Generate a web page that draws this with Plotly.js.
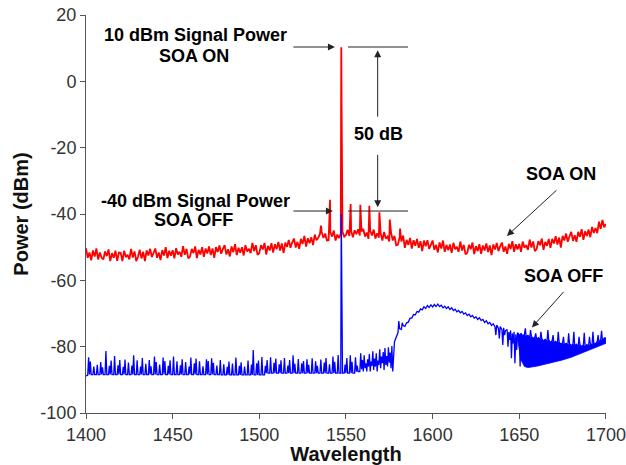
<!DOCTYPE html>
<html>
<head>
<meta charset="utf-8">
<script src="https://cdn.plot.ly/plotly-3.0.1.min.js"></script>
<style>html,body{margin:0;padding:0;background:#fff;}#chart{width:626px;height:465px;}</style>
</head>
<body>
<div id="chart"></div>
<script>
// Wavelength grid (nm): samples every 1 nm from 1400 to 1700
const wlStart = 1400;
const wlStep = 1;

// SOA ON spectrum (dBm), one value per nm, 1400..1700
const soaOn = [
-50.3,-53.2,-51.6,-54.0,-51.0,-52.8,-50.4,-53.7,-51.6,-53.2,
-53.7,-51.3,-52.7,-50.7,-54.2,-51.8,-53.2,-51.1,-54.1,-51.6,
-51.7,-54.2,-51.1,-53.0,-52.3,-53.7,-50.5,-53.1,-51.3,-54.2,
-52.9,-50.8,-53.4,-51.4,-54.2,-51.0,-52.5,-50.5,-53.0,-51.5,
-50.4,-53.2,-51.6,-53.9,-50.9,-52.5,-50.0,-53.3,-51.1,-52.6,
-50.9,-53.4,-50.3,-52.2,-51.4,-52.9,-49.7,-52.3,-50.5,-53.4,
-52.9,-50.5,-51.8,-49.8,-53.3,-50.8,-52.2,-50.0,-52.9,-50.4,
-51.9,-49.8,-52.4,-50.4,-53.2,-50.0,-51.5,-49.5,-52.0,-50.5,
-49.4,-52.2,-50.6,-52.8,-49.8,-51.5,-49.1,-52.4,-50.2,-51.7,
-50.0,-52.5,-49.4,-51.3,-50.5,-51.8,-48.7,-51.2,-49.4,-52.3,
-51.8,-49.4,-50.7,-48.7,-52.2,-49.6,-51.0,-48.8,-51.6,-49.1,
-50.6,-48.4,-51.0,-48.9,-51.8,-48.6,-49.9,-47.8,-50.2,-48.6,
-47.4,-50.1,-48.4,-50.5,-47.5,-49.0,-46.6,-49.8,-47.3,-48.8,
-47.0,-49.4,-46.2,-47.9,-47.2,-46.0,-45.4,-47.2,-45.9,-48.0,
-47.9,-45.5,-46.8,-45.0,-48.0,-46.2,-47.3,-46.0,-45.4,-46.8,
-46.3,-44.8,-46.6,-45.1,-47.0,-44.9,-46.1,-44.6,-46.5,-45.3,
-44.5,-46.8,-45.6,-47.5,-45.1,-46.5,-44.7,-47.4,-45.8,-47.1,
-45.8,-48.0,-45.4,-47.4,-46.8,-48.3,-45.5,-48.0,-46.6,-49.4,
-49.2,-46.9,-48.3,-46.5,-50.2,-47.8,-49.3,-47.2,-50.4,-47.9,
-49.6,-47.5,-50.2,-48.2,-51.2,-48.0,-49.7,-47.9,-50.5,-49.0,
-48.0,-50.8,-49.3,-51.6,-48.6,-50.4,-48.0,-51.4,-49.3,-50.9,
-49.2,-51.7,-48.7,-50.6,-49.9,-51.4,-48.3,-51.0,-49.3,-52.2,
-51.7,-49.3,-50.6,-48.6,-52.1,-49.7,-51.2,-49.1,-52.0,-49.5,
-51.0,-48.9,-51.5,-49.5,-52.4,-49.2,-50.7,-48.7,-51.2,-49.7,
-48.6,-51.4,-49.8,-52.0,-49.0,-50.6,-48.2,-51.4,-49.1,-50.7,
-49.0,-51.4,-48.3,-50.2,-49.4,-50.8,-47.7,-50.1,-48.3,-51.2,
-50.6,-48.2,-49.4,-47.4,-50.8,-48.4,-49.6,-47.5,-50.2,-47.5,
-48.9,-46.7,-49.2,-47.1,-50.1,-46.6,-48.0,-45.9,-48.4,-46.7,
-45.4,-48.1,-46.4,-48.4,-45.4,-46.9,-44.6,-47.8,-45.2,-46.6,
-44.7,-47.0,-43.9,-45.7,-44.2,-45.8,-42.3,-44.5,-41.8,-44.0,
-43.0
];

// SOA ON narrow peaks: [wavelength, dBm] (signal and side modes)
const soaOnPeaks = [
  [1535.6, -43.5], [1540.8, -35.7], [1547.3, 10.3], [1547.5, -8.0],
  [1552.7, -37.0], [1558.3, -37.2], [1563.5, -37.5], [1569.3, -39.5],
  [1575.3, -41.7], [1581.2, -44.4]
];

// SOA OFF spectrum (dBm), one value per nm, 1400..1700
const soaOff = [
-88.8,-88.6,-88.4,-88.4,-88.4,-88.4,-88.4,-88.4,-88.4,-88.4,
-88.4,-88.4,-88.4,-88.4,-88.4,-88.4,-88.4,-88.4,-88.4,-88.4,
-88.4,-88.4,-88.4,-88.4,-88.4,-88.4,-88.4,-88.4,-88.4,-88.4,
-88.4,-88.4,-88.4,-88.4,-88.4,-88.4,-88.4,-88.4,-88.4,-88.4,
-88.4,-88.4,-88.4,-88.4,-88.4,-88.4,-88.4,-88.4,-88.4,-88.4,
-88.4,-88.4,-88.4,-88.4,-88.4,-88.4,-88.4,-88.4,-88.4,-88.4,
-88.4,-88.4,-88.4,-88.4,-88.4,-88.4,-88.4,-88.4,-88.4,-88.4,
-88.4,-88.4,-88.4,-88.4,-88.4,-88.4,-88.4,-88.4,-88.5,-88.5,
-88.5,-88.5,-88.5,-88.5,-88.5,-88.5,-88.5,-88.5,-88.5,-88.5,
-88.5,-88.5,-88.5,-88.5,-88.5,-88.5,-88.5,-88.5,-88.5,-88.5,
-88.5,-88.5,-88.5,-88.5,-88.0,-88.0,-88.0,-88.0,-88.0,-88.0,
-88.0,-88.0,-88.0,-88.0,-88.0,-88.0,-88.0,-88.0,-88.0,-88.0,
-88.0,-88.0,-88.0,-88.0,-88.0,-88.0,-88.0,-88.0,-88.0,-88.0,
-88.0,-88.0,-88.0,-88.0,-88.0,-88.0,-88.0,-88.0,-88.0,-88.0,
-88.0,-88.0,-88.0,-88.0,-88.0,-88.0,-88.0,-88.0,-88.0,-88.0,
-88.0,-88.0,-88.0,-88.0,-88.0,-88.0,-87.5,-87.5,-87.5,-86.8,
-87.5,-86.5,-87.5,-86.0,-87.5,-85.8,-87.0,-86.0,-87.5,-85.5,
-86.5,-85.0,-87.0,-85.5,-86.0,-84.8,-86.5,-87.5,-78.5,-77.0,
-75.8,-74.6,-74.8,-73.6,-73.9,-72.8,-72.6,-71.4,-71.4,-70.3,
-70.4,-69.4,-69.6,-68.6,-68.9,-68.0,-68.5,-67.6,-68.2,-67.4,
-68.0,-67.3,-67.9,-67.2,-67.9,-67.5,-68.3,-67.8,-68.5,-68.0,
-68.8,-68.3,-69.1,-68.7,-69.5,-69.1,-69.8,-69.4,-70.2,-69.8,
-70.6,-70.2,-71.0,-70.6,-71.4,-71.0,-71.8,-71.3,-72.1,-71.8,
-72.7,-72.2,-73.1,-72.7,-73.6,-73.1,-74.0,-73.5,-74.5,-73.9,
-74.9,-74.3,-75.2,-74.8,-75.6,-75.1,-76.0,-75.5,-76.3,-75.8,
-76.5,-76.0,-76.8,-76.3,-77.1,-76.6,-77.3,-76.9,-77.6,-77.1,
-77.8,-77.3,-78.0,-77.6,-78.3,-77.8,-78.5,-78.0,-78.7,-78.2,
-78.9,-78.4,-79.1,-78.6,-79.3,-78.8,-79.5,-79.0,-79.6,-79.1,
-79.7,-79.2,-79.8,-79.3,-79.9,-79.4,-80.0,-79.5,-80.0,-79.4,
-79.9,-79.2,-79.6,-78.9,-79.2,-78.4,-78.7,-77.9,-78.2,-77.4,
-77.4
];

// SOA OFF narrow spikes: [wavelength, dBm]
const soaOffSpikes = [
  [1401.5,-83.2],[1402.5,-84.5],[1404.5,-86.0],[1406.5,-85.5],[1408.5,-84.6],[1409.5,-86.2],
  [1411.5,-81.3],[1413.5,-85.8],[1414.5,-84.2],[1416.5,-82.8],[1418.5,-85.6],[1419.5,-84.0],
  [1421.5,-86.1],[1422.5,-83.9],[1424.5,-84.8],[1426.5,-85.7],[1427.5,-82.6],[1429.5,-84.1],
  [1431.5,-86.0],[1432.5,-83.4],[1434.5,-85.2],[1436.5,-84.0],[1437.5,-85.9],[1439.5,-83.0],
  [1440.5,-84.6],[1442.5,-85.4],[1444.5,-83.3],[1445.5,-84.3],[1447.5,-85.8],[1448.5,-84.1],
  [1450.5,-83.0],[1452.5,-84.4],[1454.5,-85.6],[1455.5,-83.8],[1457.5,-84.6],[1459.5,-86.0],
  [1460.5,-83.3],[1462.5,-85.0],[1463.5,-83.6],[1465.5,-84.4],[1467.5,-85.9],[1469.5,-83.8],
  [1470.5,-84.3],[1472.5,-83.5],[1473.5,-84.9],[1475.5,-85.7],[1477.5,-84.0],[1479.5,-85.3],
  [1481.5,-86.1],[1482.5,-84.5],[1484.5,-85.1],[1486.5,-83.3],[1488.5,-85.8],[1489.5,-84.7],
  [1491.5,-86.0],[1493.5,-84.2],[1495.5,-85.4],[1496.5,-81.0],[1498.5,-85.0],[1499.5,-84.2],
  [1501.5,-83.1],[1503.5,-85.8],[1504.5,-84.0],[1506.5,-83.2],[1508.5,-84.9],[1509.5,-83.6],
  [1511.5,-85.3],[1512.5,-84.1],[1514.5,-83.4],[1516.5,-85.7],[1517.5,-84.0],[1519.5,-82.6],
  [1520.5,-85.2],[1522.5,-83.7],[1524.5,-85.0],[1525.5,-84.3],[1527.5,-83.8],[1528.5,-85.5],
  [1530.5,-83.5],[1532.5,-84.4],[1533.5,-85.8],[1535.5,-83.9],[1537.5,-84.8],[1538.5,-83.4],
  [1540.5,-85.3],[1542.5,-83.0],[1543.5,-84.6],[1545.5,-82.5],
  [1547.3,-40.0],[1547.5,-63.0],[1547.7,-81.0],
  [1549.5,-85.4],[1550.5,-83.4],[1552.5,-82.6],[1553.5,-84.6],[1555.5,-83.2],[1556.5,-85.7],
  [1558.5,-82.0],[1559.5,-84.0],[1560.5,-82.6],[1561.5,-85.0],[1562.5,-83.8],[1563.5,-82.2],
  [1564.5,-84.5],[1565.5,-81.4],[1566.5,-83.6],[1567.5,-82.0],[1568.5,-84.2],[1569.5,-80.8],
  [1570.5,-83.0],[1571.5,-81.6],[1572.5,-80.4],[1573.5,-82.8],[1574.5,-80.2],[1575.5,-81.8],
  [1576.5,-79.8],
  [1580.5,-72.3],[1582.5,-72.8],
  [1636.5,-76.5],[1638.5,-77.5],[1640.5,-79.5],[1641.5,-76.5],[1643.5,-80.0],[1644.5,-78.0],
  [1645.5,-83.5],[1646.5,-79.0],[1647.5,-85.0],[1648.5,-81.0],[1650.5,-86.0],
  [1653.5,-74.5],[1656.5,-75.0],[1659.5,-76.0],[1662.5,-75.5],[1666.5,-75.0],[1669.5,-76.5],
  [1672.5,-75.5],[1675.5,-77.0],[1678.5,-76.0],[1681.5,-75.5],[1684.5,-77.0],[1687.5,-75.8],
  [1690.5,-77.0],[1692.5,-75.5],[1695.5,-76.5],[1697.5,-75.2]
];

// SOA OFF lower envelope of the dense band at long wavelengths
const offLowWl = [1649, 1651, 1653, 1655, 1660, 1665, 1670, 1675, 1680, 1685, 1690, 1695, 1700];
const offLowDb = [-77.6, -84.0, -86.0, -86.3, -85.9, -85.3, -84.7, -84.0, -83.2, -82.2, -81.2, -80.1, -79.0];

// Axis ticks
const xTicks = [1400, 1450, 1500, 1550, 1600, 1650, 1700];
const yTicks = [-100, -80, -60, -40, -20, 0, 20];

const wl = soaOn.map((_, i) => wlStart + i * wlStep);

function merge(base, extra) {
  const pts = base.map((v, i) => [wl[i], v]).concat(extra);
  pts.sort((a, b) => a[0] - b[0]);
  return { x: pts.map(p => p[0]), y: pts.map(p => p[1]) };
}

const onM = merge(soaOn, soaOnPeaks);
const offM = merge(soaOff, soaOffSpikes);
const i0 = offLowWl[0] - wlStart;
const fillX = wl.slice(i0).concat(offLowWl.slice().reverse());
const fillY = soaOff.slice(i0).concat(offLowDb.slice().reverse());

const traces = [
  { x: onM.x, y: onM.y, type: 'scatter', mode: 'lines', line: { color: '#ff0000', width: 1.8 }, hoverinfo: 'skip', cliponaxis: false },
  { x: fillX, y: fillY, type: 'scatter', mode: 'lines', fill: 'toself', fillcolor: '#0000ff', line: { color: '#0000ff', width: 0.8 }, hoverinfo: 'skip', cliponaxis: false },
  { x: offM.x, y: offM.y, type: 'scatter', mode: 'lines', line: { color: '#0000ff', width: 1.3 }, hoverinfo: 'skip', cliponaxis: false }
];

const txtFont = { family: 'Arial, Liberation Sans, sans-serif', size: 18, color: '#000', weight: 'bold' };
const arrowCol = '#222';
function label(text, x, y) {
  return { text: text, x: x, y: y, xref: 'x', yref: 'y', showarrow: false, font: txtFont, xanchor: 'center', yanchor: 'middle' };
}
function arrow(x, y, ax, ay) {
  return { text: '', x: x, y: y, xref: 'x', yref: 'y', ax: ax, ay: ay, showarrow: true,
           arrowhead: 2, arrowsize: 1.4, arrowwidth: 1, arrowcolor: arrowCol, standoff: 0, startstandoff: 0 };
}

const layout = {
  width: 626, height: 465,
  margin: { l: 86, r: 20, t: 15, b: 52 },
  paper_bgcolor: '#fff', plot_bgcolor: '#fff',
  showlegend: false,
  font: { family: 'Arial, Liberation Sans, sans-serif', color: '#222' },
  xaxis: {
    range: [1400, 1700.05], tickmode: 'array', tickvals: xTicks, ticktext: xTicks.map(String),
    ticks: 'outside', ticklen: 5, tickcolor: '#555', showline: true, linecolor: '#555', linewidth: 1,
    showgrid: false, zeroline: false, automargin: false,
    tickfont: { size: 18, color: '#333' },
    title: { text: 'Wavelength', font: { size: 20, color: '#111', weight: 'bold' }, standoff: 4 }
  },
  yaxis: {
    range: [-100, 20], tickmode: 'array', tickvals: yTicks, ticktext: yTicks.map(String),
    ticks: 'outside', ticklen: 5, tickcolor: '#555', showline: true, linecolor: '#555', linewidth: 1,
    showgrid: false, zeroline: false, automargin: false,
    tickfont: { size: 18, color: '#333' },
    title: { text: 'Power (dBm)', font: { size: 20, color: '#111', weight: 'bold' }, standoff: 6 }
  },
  shapes: [
    { type: 'line', xref: 'x', yref: 'y', x0: 1551.2, x1: 1585.8, y0: 10.35, y1: 10.35, line: { color: arrowCol, width: 1 } },
    { type: 'line', xref: 'x', yref: 'y', x0: 1551.2, x1: 1585.8, y0: -39.1, y1: -39.1, line: { color: arrowCol, width: 1 } }
  ],
  annotations: [
    label('10 dBm Signal Power', 1462.9, 13.9),
    label('SOA ON', 1462.3, 7.6),
    label('-40 dBm Signal Power', 1462.9, -36.0),
    label('SOA OFF', 1462.0, -41.9),
    label('50 dB', 1568.8, -15.8),
    label('SOA ON', 1674.3, -28.0),
    label('SOA OFF', 1675.5, -58.8),
    arrow(1543.65, 10.35, -43, 0),
    arrow(1542.5, -39.1, -41, 0),
    arrow(1568.3, 9.4, 0, 68),
    arrow(1568.3, -38.0, 0, -54),
    arrow(1642.9, -46.6, 51, -47),
    arrow(1657.3, -74.2, 33, -37)
  ]
};

Plotly.newPlot('chart', traces, layout, { staticPlot: true, displayModeBar: false });
</script>
</body>
</html>
